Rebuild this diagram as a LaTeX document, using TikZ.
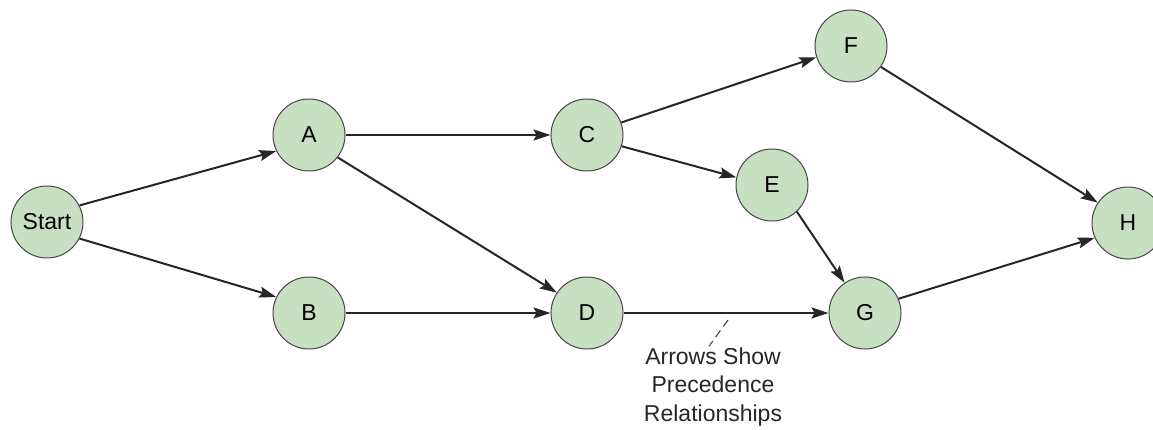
\documentclass[tikz,border=0pt]{standalone}
\usepackage{fontspec}
\setmainfont{Liberation Sans}
\usetikzlibrary{arrows.meta}

\definecolor{actgreen}{RGB}{200,224,194}
\definecolor{actline}{RGB}{70,70,70}

\tikzset{
    activity/.style={circle,draw=actline,line width=1pt,fill=actgreen,minimum size=72pt,inner sep=0pt,font=\fontsize{23}{26}\selectfont},
    prec/.style={line width=2pt,color=black!85,-{Stealth[length=17pt,width=11pt,inset=3pt]}},
}

\begin{document}
\begin{tikzpicture}[x=1pt,y=1pt]
    \useasboundingbox (0,0) rectangle (1153,430);
    \node[activity] (start) at (47,208) {Start};
    \node[activity] (a) at (309,295) {A};
    \node[activity] (b) at (309,117) {B};
    \node[activity] (c) at (587,295) {C};
    \node[activity] (d) at (587,117) {D};
    \node[activity] (e) at (772,245) {E};
    \node[activity] (f) at (851,384) {F};
    \node[activity] (g) at (865,117) {G};
    \node[activity] (h) at (1128,207) {H};
    %
    \draw[prec] (start.27) -- (a.206);
    \draw[prec] (start.-27) -- (b.154);
    \draw[prec] (a.east) -- (c.west);
    \draw[prec] (a.-38) -- (d.146);
    \draw[prec] (b.east) -- (d.west);
    \draw[prec] (c.20) -- (f.198);
    \draw[prec] (c.-18) -- (e.168);
    \draw[prec] (d.east) -- (g.west);
    \draw[prec] (e.-47) -- (g.124);
    \draw[prec] (f.-35) -- (h.146);
    \draw[prec] (g.23) -- (h.204);
    %
    \node[align=center,font=\fontsize{23}{28.5}\selectfont,text=black!85] (note) at (713,43) {Arrows Show\\Precedence\\Relationships};
    \coordinate (tag) at (728,110);
    \draw[line width=1pt,dash pattern=on 8pt off 5pt,black!80] (tag) -- ([xshift=-4pt,yshift=-2pt]note.north);
\end{tikzpicture}
\end{document}
